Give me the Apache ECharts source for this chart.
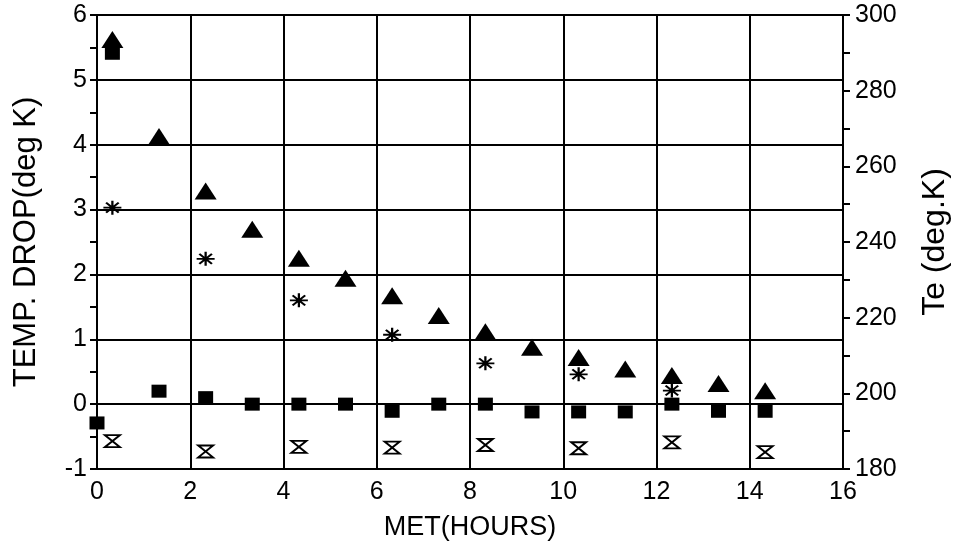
<!DOCTYPE html>
<html>
<head>
<meta charset="utf-8">
<script src="https://cdn.jsdelivr.net/npm/echarts@6/dist/echarts.min.js"></script>
<style>html,body{margin:0;padding:0;background:#fff}#c{width:959px;height:550px}</style>
</head>
<body>
<div id="c"></div>
<script>
// MET hours for each series
const xTe = [0.33,1.33,2.33,3.33,4.33,5.33,6.33,7.33,8.33,9.33,10.33,11.33,12.33,13.33,14.33];
const teValues = [293.5,267.9,253.5,243.4,235.7,230.4,225.8,220.6,216.3,212.2,209.5,206.4,204.7,202.6,200.7];
const xSquare = [0,0.33,1.33,2.33,3.33,4.33,5.33,6.33,7.33,8.33,9.33,10.33,11.33,12.33,13.33,14.33];
const squareValues = [-0.29,5.41,0.20,0.10,0.0,0.0,0.0,-0.11,0.0,0.0,-0.12,-0.12,-0.12,0.0,-0.11,-0.11];
const xStar = [0.33,2.33,4.33,6.33,8.33,10.33,12.33];
const starValues = [3.03,2.24,1.60,1.07,0.63,0.46,0.21];
const xHour = [0.33,2.33,4.33,6.33,8.33,10.33,12.33,14.33];
const hourValues = [-0.57,-0.73,-0.66,-0.67,-0.63,-0.68,-0.59,-0.74];

const pair = (xs, ys) => xs.map((x, i) => [x, ys[i]]);
const font = 'Liberation Sans, Arial, sans-serif';
const chart = echarts.init(document.getElementById('c'));
chart.setOption({
  animation: false,
  backgroundColor: '#fff',
  grid: { left: 97, right: 112, top: 15, bottom: 81, show: true, borderColor: '#000', borderWidth: 2 },
  xAxis: {
    type: 'value', min: 0, max: 16, interval: 2,
    name: 'MET(HOURS)', nameLocation: 'middle', nameGap: 45,
    nameTextStyle: { color: '#000', fontSize: 27, fontFamily: font },
    axisLine: { lineStyle: { color: '#000', width: 2 } },
    axisTick: { show: true, length: 5, lineStyle: { color: '#000', width: 2 } },
    axisLabel: { color: '#000', fontSize: 25, fontFamily: font, margin: 11 },
    splitLine: { show: true, lineStyle: { color: '#000', width: 2 } }
  },
  yAxis: [{
    type: 'value', min: -1, max: 6, interval: 1, position: 'left',
    name: 'TEMP. DROP(deg K)', nameLocation: 'middle', nameGap: 55, nameRotate: 90,
    nameTextStyle: { color: '#000', fontSize: 31, fontFamily: font },
    axisLine: { show: true, lineStyle: { color: '#000', width: 2 } },
    axisTick: { show: true, length: 7, lineStyle: { color: '#000', width: 2 } },
    minorTick: { show: true, splitNumber: 2, length: 7, lineStyle: { color: '#000', width: 2 } },
    axisLabel: { color: '#000', fontSize: 25, fontFamily: font, margin: 10 },
    splitLine: { show: true, lineStyle: { color: '#000', width: 2 } }
  }, {
    type: 'value', min: 180, max: 300, interval: 20, position: 'right',
    name: 'Te (deg.K)', nameLocation: 'middle', nameGap: 76, nameRotate: 90,
    nameTextStyle: { color: '#000', fontSize: 32, fontFamily: font },
    axisLine: { show: true, lineStyle: { color: '#000', width: 2 } },
    axisTick: { show: true, length: 7, lineStyle: { color: '#000', width: 2 } },
    minorTick: { show: true, splitNumber: 2, length: 7, lineStyle: { color: '#000', width: 2 } },
    axisLabel: { color: '#000', fontSize: 25, fontFamily: font, margin: 12 },
    splitLine: { show: false }
  }],
  series: [{
    name: 'Te', type: 'scatter', yAxisIndex: 1,
    symbol: 'triangle', symbolSize: [22, 17],
    itemStyle: { color: '#000', opacity: 1 },
    data: pair(xTe, teValues)
  }, {
    name: 'Temp drop (square)', type: 'scatter', yAxisIndex: 0,
    symbol: 'rect', symbolSize: [15, 13],
    itemStyle: { color: '#000', opacity: 1 },
    data: pair(xSquare, squareValues)
  }, {
    name: 'Temp drop (asterisk)', type: 'scatter', yAxisIndex: 0,
    symbol: 'path://M0,5 L10,5 M5,0 L5,10 M1.5,1.5 L8.5,8.5 M8.5,1.5 L1.5,8.5', symbolSize: [18, 14],
    itemStyle: { color: 'rgba(0,0,0,0)', borderColor: '#000', borderWidth: 2, opacity: 1 },
    data: pair(xStar, starValues)
  }, {
    name: 'Temp drop (hourglass)', type: 'scatter', yAxisIndex: 0,
    symbol: 'path://M0,0 L10,0 L0,10 L10,10 Z', symbolSize: [15, 12],
    itemStyle: { color: 'rgba(0,0,0,0)', borderColor: '#000', borderWidth: 2, opacity: 1 },
    data: pair(xHour, hourValues)
  }]
});
</script>
</body>
</html>
